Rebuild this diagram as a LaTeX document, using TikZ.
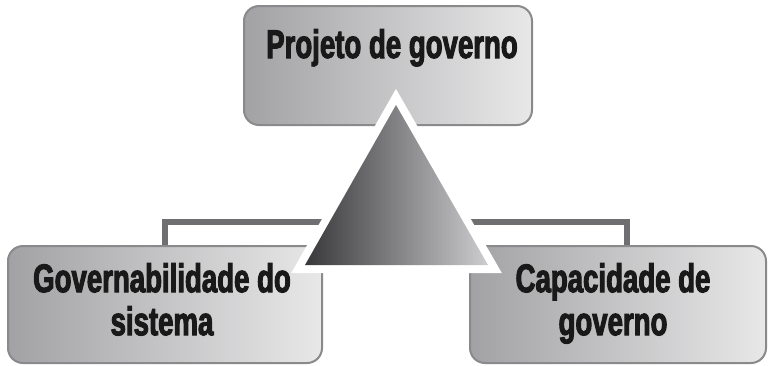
\documentclass[tikz,border=0pt]{standalone}
\usepackage{fontspec}
\usepackage{xcolor}
\newfontfamily\condfont{Liberation Sans Bold}[FakeStretch=0.69, FakeBold=2.5]
\definecolor{boxleft}{HTML}{A2A2A4}
\definecolor{boxright}{HTML}{E8E8E9}
\definecolor{boxline}{HTML}{8A8A8C}
\definecolor{linkgray}{HTML}{6F6F71}
\definecolor{tridark}{HTML}{38383A}
\definecolor{trilight}{HTML}{CDCDCF}

\begin{document}
\begin{tikzpicture}[x=1pt,y=-1pt,
    box/.style={draw=boxline, line width=2pt, rounded corners=15pt,
      shading=axis, left color=boxleft, right color=boxright, inner sep=0pt},
    lbl/.style={inner sep=0pt, align=center, text=black!90,
      font=\condfont\fontsize{40}{43}\selectfont},
    link/.style={draw=linkgray, line width=6pt}]

      % page size
      \useasboundingbox (0, 0) rectangle (774, 365);

      % boxes
      \node [box, minimum width=288pt, minimum height=119pt, name=proj] at (388, 65.5) {};
      \node [box, minimum width=314pt, minimum height=117pt, name=gov] at (165, 304.5) {};
      \node [box, minimum width=296pt, minimum height=117pt, name=cap] at (618, 304.5) {};

      % labels
      \node [lbl, anchor=base, name=projtext] at (392, 58) {Projeto de governo};
      \node [lbl, anchor=north, name=govtext] at (162, 263) {Governabilidade do\\sistema};
      \node [lbl, anchor=north, name=captext] at (613, 263) {Capacidade de\\governo};

      % corners of the triangle
      \coordinate (top) at (396, 105);
      \coordinate (left) at (305, 265);
      \coordinate (right) at (488, 265);
      \coordinate (mid) at (396, 222);

      % connections
      \draw [link] (gov.north) |- (mid);
      \draw [link] ([xshift=9pt]cap.north) |- (mid);

      % triangle
      \shade [left color=tridark, right color=trilight,
        preaction={draw=white, line width=16pt, line join=miter}]
        (top) -- (right) -- (left) -- cycle;

\end{tikzpicture}
\end{document}
